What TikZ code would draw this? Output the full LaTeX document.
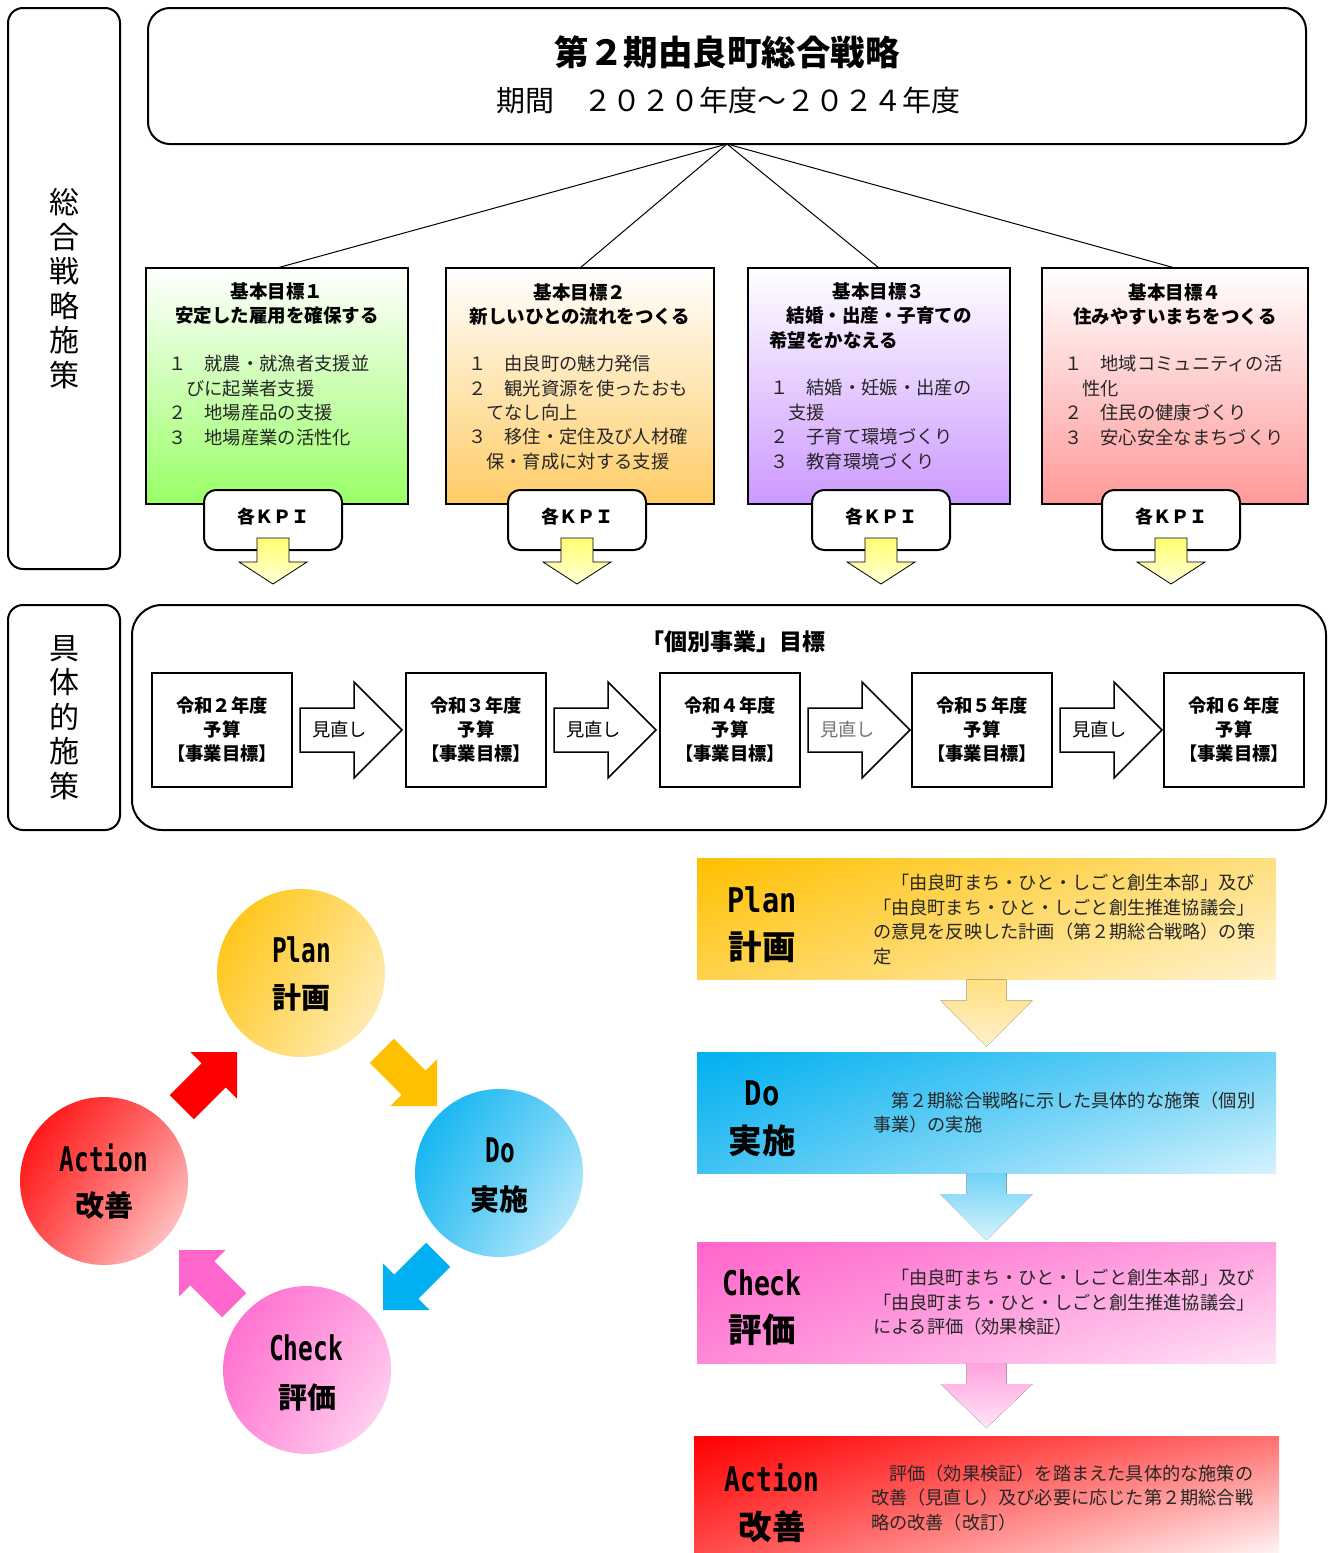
\documentclass[tikz,border=0pt]{standalone}
\usepackage{graphicx}
\usepackage{fontspec}
\setmainfont{Noto Sans CJK JP}
\newfontfamily\monofnt{DejaVu Sans Mono}
\usetikzlibrary{calc,shadings}
\newcommand\setfs[2]{\fontsize{#1pt}{#2pt}\selectfont}
\newcommand\latw[2]{\scalebox{#1}[1]{\monofnt\bfseries #2}}
\definecolor{gA}{HTML}{99FF66}
\definecolor{gB}{HTML}{FFCC66}
\definecolor{gC}{HTML}{CC99FF}
\definecolor{gD}{HTML}{FF9999}
\definecolor{kpitop}{HTML}{FFFF70}
\definecolor{kpibot}{HTML}{FFFFD8}
\definecolor{orA}{HTML}{FFC000}
\definecolor{orB}{HTML}{FFDF80}
\definecolor{orC}{HTML}{FFD24D}
\definecolor{orD}{HTML}{FFF2CC}
\definecolor{blA}{HTML}{00B0F0}
\definecolor{blB}{HTML}{70D2F6}
\definecolor{blC}{HTML}{40C2F3}
\definecolor{blD}{HTML}{D6F3FD}
\definecolor{pkA}{HTML}{FF66CC}
\definecolor{pkB}{HTML}{FFA3E0}
\definecolor{pkC}{HTML}{FF88D7}
\definecolor{pkD}{HTML}{FFE4F6}
\definecolor{rdA}{HTML}{FF0000}
\definecolor{rdB}{HTML}{FF7070}
\definecolor{rdC}{HTML}{FF4848}
\definecolor{rdD}{HTML}{FFE4E4}
\definecolor{rdE}{HTML}{FFF4F4}
\tikzset{
  every node/.style={inner sep=0pt, outer sep=0pt},
  frame/.style={draw=black, line width=2pt},
  conn/.style={draw=black, line width=1pt},
  headtxt/.style={align=center, font=\setfs{18.5}{24}\bfseries},
  bodytxt/.style={align=left, anchor=west, text=black!85, font=\setfs{18.3}{24.4}},
  goalbox/.style={frame, minimum height=236pt},
  kpibox/.style={frame, fill=white, rounded corners=12pt, minimum width=138pt, minimum height=60pt},
  kpitxt/.style={font=\setfs{18}{22}\bfseries},
  kpiarrow/.style={draw=black, line width=0.8pt, top color=kpitop, bottom color=kpibot},
  yearbox/.style={frame, minimum width=140pt, minimum height=114pt, align=center, font=\setfs{18.3}{24}\bfseries},
  revarrow/.style={draw=black, line width=1.5pt, fill=white},
  revtxt/.style={anchor=west, font=\setfs{18.3}{22}},
  sidebox/.style={frame, rounded corners=15pt, minimum width=112pt},
  sidetxt/.style={align=center, font=\setfs{30}{34.6}},
  pdcacirc/.style={circle, minimum size=168pt},
  circlat/.style={font=\setfs{34}{38}},
  circjp/.style={font=\setfs{29}{34}\bfseries},
  rbox/.style={minimum height=121pt},
  rlat/.style={font=\setfs{34}{38}},
  rjp/.style={font=\setfs{33.5}{38}\bfseries},
  rtxt/.style={align=left, anchor=west, text=black!85, font=\setfs{18.2}{24.4}},
}
\newcommand\diagarrow[3]{%
  \fill[#3] ($(#1)+(#2+180:78)+(#2+90:17)$) -- ($(#1)+(#2+180:33)+(#2+90:17)$)
   -- ($(#1)+(#2+180:33)+(#2+90:33)$) -- (#1)
   -- ($(#1)+(#2+180:33)+(#2-90:33)$) -- ($(#1)+(#2+180:33)+(#2-90:17)$)
   -- ($(#1)+(#2+180:78)+(#2-90:17)$) -- cycle;}
\begin{document}
\begin{tikzpicture}[x=1pt,y=-1pt]
\fill[white] (0,0) rectangle (1330,1553);
\useasboundingbox (0,0) rectangle (1330,1553);

% side labels
\node[sidebox, minimum height=561pt] (lab1) at (64,288.5) {};
\node[sidetxt] (lab1t) at (64,288.5) {総\\合\\戦\\略\\施\\策};
\node[sidebox, minimum height=225pt] (lab2) at (64,717.5) {};
\node[sidetxt] (lab2t) at (64,717.5) {具\\体\\的\\施\\策};

% title
\node[frame, rounded corners=22pt, minimum width=1158pt, minimum height=136pt] (title) at (727,76) {};
\node[font=\setfs{34.5}{40}\bfseries] (titlet) at (727,52) {第２期由良町総合戦略};
\node[font=\setfs{29}{34}] (titles) at (728,100) {期間　２０２０年度～２０２４年度};

% goal boxes
\node[goalbox, minimum width=262pt, top color=white, bottom color=gA] (g1) at (277,386) {};
\node[goalbox, minimum width=268pt, top color=white, bottom color=gB] (g2) at (580,386) {};
\node[goalbox, minimum width=262pt, top color=white, bottom color=gC] (g3) at (879,386) {};
\node[goalbox, minimum width=266pt, top color=white, bottom color=gD] (g4) at (1175,386) {};
\foreach \g in {g1,g2,g3,g4} \draw[conn] (title.south) -- (\g.north);

\node[headtxt] (g1h) at (277,304) {基本目標１\\安定した雇用を確保する};
\node[bodytxt] (g1i) at (168,400.5) {１　就農・就漁者支援並\\　びに起業者支援\\２　地場産品の支援\\３　地場産業の活性化};
\node[headtxt] (g2h) at (580,304) {基本目標２\\新しいひとの流れをつくる};
\node[bodytxt] (g2i) at (468,412.5) {１　由良町の魅力発信\\２　観光資源を使ったおも\\　てなし向上\\３　移住・定住及び人材確\\　保・育成に対する支援};
\node[headtxt] (g3h) at (879,304) {基本目標３\\結婚・出産・子育ての};
\node[headtxt, anchor=west] (g3h2) at (769,340) {希望をかなえる};
\node[bodytxt] (g3i) at (770,424.5) {１　結婚・妊娠・出産の\\　支援\\２　子育て環境づくり\\３　教育環境づくり};
\node[headtxt] (g4h) at (1175,304) {基本目標４\\住みやすいまちをつくる};
\node[bodytxt] (g4i) at (1064,400.5) {１　地域コミュニティの活\\　性化\\２　住民の健康づくり\\３　安心安全なまちづくり};

% KPI boxes and arrows
\foreach \k/\cx in {k1/273,k2/577,k3/881,k4/1171}{
  \node[kpibox] (\k) at (\cx,520) {};
  \node[kpitxt] (\k t) at (\cx,517) {各ＫＰＩ};
  \draw[kpiarrow, shift={(\k.south)}] (-16,-12) -- (16,-12) -- (16,12) -- (34,12) -- (0,34) -- (-34,12) -- (-16,12) -- cycle;
}

% middle section
\node[frame, rounded corners=30pt, minimum width=1194pt, minimum height=225pt] (mid) at (729,717.5) {};
\node[font=\setfs{23}{28}\bfseries] (midt) at (733,642) {「個別事業」目標};
\node[yearbox] (y1) at (222,730) {令和２年度\\予算\\【事業目標】};
\node[yearbox] (y2) at (476,730) {令和３年度\\予算\\【事業目標】};
\node[yearbox] (y3) at (730,730) {令和４年度\\予算\\【事業目標】};
\node[yearbox] (y4) at (982,730) {令和５年度\\予算\\【事業目標】};
\node[yearbox] (y5) at (1234,730) {令和６年度\\予算\\【事業目標】};
\foreach \a/\c in {y1/black,y2/black,y3/black!55,y4/black}{
  \draw[revarrow, shift={(\a.east)}] (8,-22) -- (62,-22) -- (62,-48) -- (110,0) -- (62,48) -- (62,22) -- (8,22) -- cycle;
  \node[revtxt, text=\c] (\a r) at ($(\a.east)+(20,0)$) {見直し};
}

% PDCA cycle
\node[pdcacirc, upper left=orA, upper right=orB, lower left=orC, lower right=orD] (cplan) at (301,973) {};
\node[pdcacirc, upper left=blA, upper right=blB, lower left=blC, lower right=blD] (cdo) at (499,1173) {};
\node[pdcacirc, upper left=pkA, upper right=pkB, lower left=pkC, lower right=pkD] (ccheck) at (307,1370) {};
\node[pdcacirc, upper left=rdA, upper right=rdB, lower left=rdC, lower right=rdD] (cact) at (104,1181) {};
\node[circlat] (cplan1) at (301.5,950) {\latw{0.72}{Plan}};
\node[circjp] (cplan2) at (301.5,998) {計画};
\node[circlat] (cdo1) at (500,1150) {\latw{0.72}{Do}};
\node[circjp] (cdo2) at (499,1199) {実施};
\node[circlat] (ccheck1) at (306,1348) {\latw{0.72}{Check}};
\node[circjp] (ccheck2) at (307,1397) {評価};
\node[circlat] (cact1) at (104,1158) {\latw{0.72}{Action}};
\node[circjp] (cact2) at (104,1205) {改善};
\coordinate (t1) at (437,1106);
\coordinate (t2) at (383,1310);
\coordinate (t3) at (179,1250);
\coordinate (t4) at (237,1052);
\diagarrow{t1}{45}{orA}
\diagarrow{t2}{135}{blA}
\diagarrow{t3}{225}{pkA}
\diagarrow{t4}{315}{rdA}

% right PDCA boxes
\node[rbox, minimum width=579pt, upper left=orA, upper right=orB, lower left=orC, lower right=orD] (rp) at (986.5,919) {};
\node[rbox, minimum width=579pt, upper left=blA, upper right=blB, lower left=blC, lower right=blD] (rd) at (986.5,1112.5) {};
\node[rbox, minimum width=579pt, upper left=pkA, upper right=pkB, lower left=pkC, lower right=pkD] (rc) at (986.5,1302.5) {};
\node[minimum height=117pt, minimum width=585pt, upper left=rdA, upper right=rdB, lower left=rdC, lower right=rdE] (ra) at (986.5,1494.5) {};

\fill[top color=orB, bottom color=orD, shift={(rp.south)}] (-20,0) -- (20,0) -- (20,21) -- (46,21) -- (0,67) -- (-46,21) -- (-20,21) -- cycle;
\fill[top color=blB, bottom color=blD, shift={(rd.south)}] (-20,0) -- (20,0) -- (20,21) -- (46,21) -- (0,67) -- (-46,21) -- (-20,21) -- cycle;
\fill[top color=pkB, bottom color=pkD, shift={(rc.south)}] (-20,0) -- (20,0) -- (20,21) -- (46,21) -- (0,65) -- (-46,21) -- (-20,21) -- cycle;

\node[rlat] (rp1) at (762,900) {\latw{0.84}{Plan}};
\node[rjp] (rp2) at (762,947) {計画};
\node[rtxt] (rpt) at (873,919.5) {　「由良町まち・ひと・しごと創生本部」及び\\「由良町まち・ひと・しごと創生推進協議会」\\の意見を反映した計画（第２期総合戦略）の策\\定};
\node[rlat] (rd1) at (762,1093) {\latw{0.85}{Do}};
\node[rjp] (rd2) at (762,1141) {実施};
\node[rtxt] (rdt) at (873,1112.5) {　第２期総合戦略に示した具体的な施策（個別\\事業）の実施};
\node[rlat] (rc1) at (762,1283) {\latw{0.78}{Check}};
\node[rjp] (rc2) at (762,1330) {評価};
\node[rtxt] (rct) at (873,1302.5) {　「由良町まち・ひと・しごと創生本部」及び\\「由良町まち・ひと・しごと創生推進協議会」\\による評価（効果検証）};
\node[rlat] (ra1) at (772,1478) {\latw{0.77}{Action}};
\node[rjp] (ra2) at (772,1527) {改善};
\node[rtxt] (rat) at (871,1498) {　評価（効果検証）を踏まえた具体的な施策の\\改善（見直し）及び必要に応じた第２期総合戦\\略の改善（改訂）};
\end{tikzpicture}
\end{document}
